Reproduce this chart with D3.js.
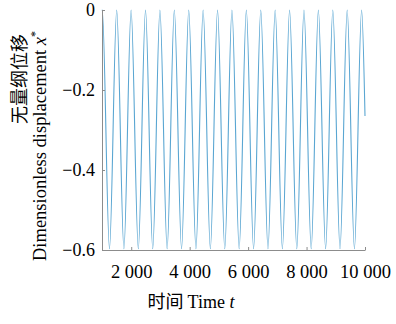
<!DOCTYPE html>
<html>
<head>
<meta charset="utf-8">
<script src="https://cdn.jsdelivr.net/npm/d3@7"></script>
<style>
    body { margin: 0; background: #fff; }
    text { font-family: "Liberation Serif", "Times New Roman", serif; }
</style>
</head>
<body>
<div id="lineChart"></div>
<script>
// crests (x* = 0) and troughs (x* ~ -0.6)
var peakTimes = [1010, 1503, 1996, 2489, 2982, 3475, 3968, 4461, 4954, 5447, 5940, 6433, 6926, 7419, 7912, 8405, 8898, 9391, 9884];
var peakValue = 0;
var troughTimes = [1256, 1750, 2243, 2736, 3229, 3722, 4215, 4708, 5201, 5694, 6187, 6680, 7173, 7666, 8159, 8652, 9145, 9638];
var troughValue = -0.597;
// first and last sample of the record
var startPoint = [1000, -0.001];
var endPoint = [10000, -0.265];

var xTicks = [2000, 4000, 6000, 8000, 10000];
var yTicks = [0, -0.2, -0.4, -0.6];

/**
 * Constructor for the line chart
 */
function LineChart() {
    var self = this;
    self.init();
};

LineChart.prototype.init = function () {
    var self = this;
    var div = d3.select("#lineChart");

    self.svgWidth = 396;
    self.svgHeight = 324;
    self.margin = {top: 10, right: 31, bottom: 74, left: 102};

    self.svg = div.append("svg")
        .attr("width", self.svgWidth)
        .attr("height", self.svgHeight);

    // merge crests and troughs into one time series
    self.data = [startPoint];
    peakTimes.forEach(function (t) { self.data.push([t, peakValue]); });
    troughTimes.forEach(function (t) { self.data.push([t, troughValue]); });
    self.data.push(endPoint);
    self.data.sort(function (a, b) { return a[0] - b[0]; });
};

LineChart.prototype.update = function () {
    var self = this;
    var m = self.margin;

    var xScale = d3.scaleLinear()
        .domain([1000, 10000])
        .range([m.left, self.svgWidth - m.right]);

    var yScale = d3.scaleLinear()
        .domain([-0.6, 0])
        .range([self.svgHeight - m.bottom, m.top]);

    var fmtX = function (d) {
        var s = String(d);
        return s.slice(0, s.length - 3) + " " + s.slice(-3);
    };
    var fmtY = function (d) {
        return d === 0 ? "0" : "\u2212" + Math.abs(d).toFixed(1);
    };

    var xAxis = d3.axisBottom(xScale)
        .tickValues(xTicks)
        .tickFormat(fmtX)
        .tickSizeInner(-3)
        .tickSizeOuter(0)
        .tickPadding(15);

    var yAxis = d3.axisLeft(yScale)
        .tickValues(yTicks)
        .tickFormat(fmtY)
        .tickSizeInner(-3)
        .tickSizeOuter(0)
        .tickPadding(7);

    // line first, axes on top
    var line = d3.line()
        .x(function (d) { return xScale(d[0]); })
        .y(function (d) { return yScale(d[1]); })
        .curve(d3.curveMonotoneX);

    self.svg.append("path")
        .datum(self.data)
        .attr("fill", "none")
        .attr("stroke", "#5aa6d2")
        .attr("stroke-width", 1.1)
        .attr("d", line);

    var gx = self.svg.append("g")
        .attr("transform", "translate(0," + (self.svgHeight - m.bottom) + ")")
        .call(xAxis);

    var gy = self.svg.append("g")
        .attr("transform", "translate(" + m.left + ",0)")
        .call(yAxis);

    [gx, gy].forEach(function (g) {
        g.select(".domain").attr("stroke", "#8c8c8c");
        g.selectAll(".tick line").attr("stroke", "#8c8c8c");
        g.selectAll(".tick text")
            .attr("fill", "#000")
            .style("font-size", "18px")
            .style("font-family", "'Liberation Serif', serif");
    });
    gx.selectAll(".tick text").style("font-size", "18.5px");

    // axis titles
    var yTitle = self.svg.append("g")
        .attr("transform", "rotate(-90)");

    yTitle.append("text")
        .attr("x", -34)
        .attr("y", 26)
        .attr("text-anchor", "end")
        .style("font-size", "18px")
        .style("font-family", "'Noto Sans CJK SC', sans-serif")
        .text("无量纲位移");

    var en = yTitle.append("text")
        .attr("x", -146)
        .attr("y", 46)
        .attr("text-anchor", "middle")
        .style("font-size", "18.5px");
    en.append("tspan").text("Dimensionless displacement ");
    en.append("tspan").style("font-style", "italic").text("x");
    en.append("tspan").attr("dy", -7).style("font-size", "12px").text("*");

    var xt = self.svg.append("text")
        .attr("x", 191)
        .attr("y", 308)
        .attr("text-anchor", "middle")
        .style("font-size", "18px");
    xt.append("tspan").style("font-family", "'Noto Sans CJK SC', sans-serif").text("时间 ");
    xt.append("tspan").text("Time ");
    xt.append("tspan").style("font-style", "italic").text("t");
};

var chart = new LineChart();
chart.update();
</script>
</body>
</html>
